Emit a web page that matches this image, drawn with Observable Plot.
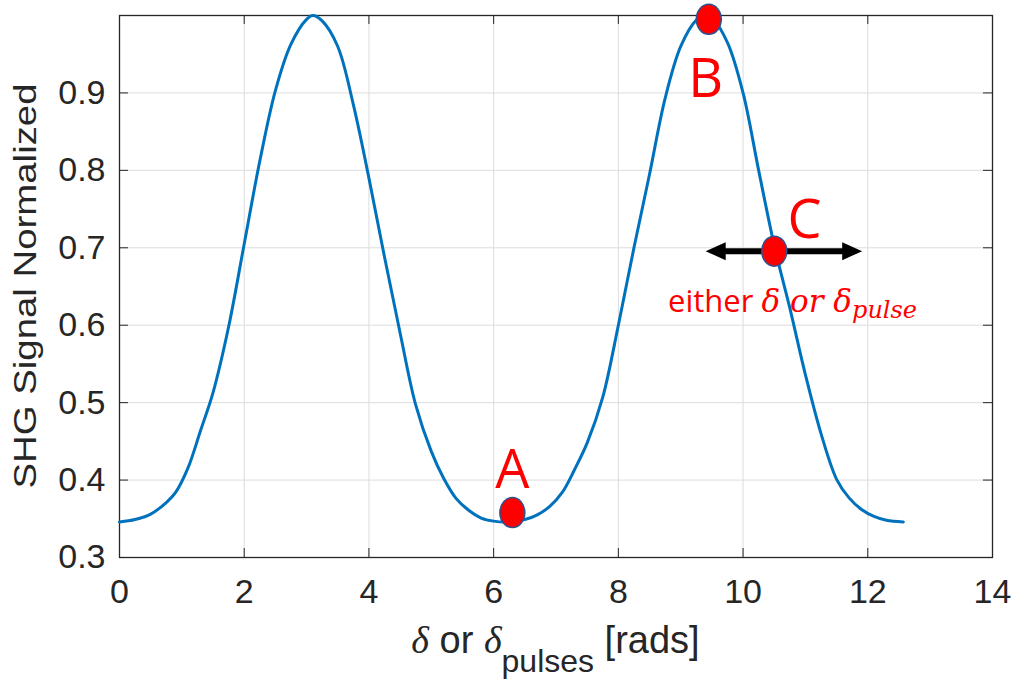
<!DOCTYPE html>
<html><head><meta charset="utf-8">
<script src="https://cdn.jsdelivr.net/npm/d3@7"></script>
<script src="https://cdn.jsdelivr.net/npm/@observablehq/plot@0.6"></script>
<style>body{margin:0;background:#fff;}</style>
</head><body><div id="chart"></div>
<script>
// ---- data ----
const xTicks = [0, 2, 4, 6, 8, 10, 12, 14];
const yTicks = [0.3, 0.4, 0.5, 0.6, 0.7, 0.8, 0.9];
const phase = [0,0.25,0.5,0.75,0.9,1.1,1.3,1.5,1.75,2,2.25,2.5,2.75,3,3.1,3.25,3.5,3.75,4,4.25,4.5,4.75,5,5.2,5.4,5.6,5.8,6,6.25,
  6.5,6.7,6.9,7.1,7.3,7.5,7.75,8,8.25,8.5,8.75,9,9.25,9.4,9.5,9.75,10,10.25,10.5,10.75,11,11.25,11.5,11.7,11.9,12.1,12.3,12.57];
const signal = [0.346,0.349,0.356,0.371,0.384,0.416,0.464,0.513,0.598,0.705,0.812,0.903,0.963,0.995,1.0,0.993,0.960,0.885,0.790,0.688,0.590,0.497,0.437,0.402,0.376,0.361,0.351,0.347,0.346,
  0.349,0.355,0.366,0.384,0.414,0.448,0.507,0.600,0.700,0.795,0.893,0.960,0.994,1.0,0.997,0.965,0.900,0.800,0.703,0.622,0.536,0.460,0.401,0.377,0.362,0.353,0.348,0.346];
const pointNames = ["A", "B", "C"];
const pointX = [6.30, 9.45, 10.50];
const pointY = [0.358, 0.995, 0.6956];
const labelX = [6.30, 9.40, 10.985];
const labelY = [0.390, 0.8945, 0.712];
const arrowX = [9.40, 11.91];
const arrowY = 0.6956;
const noteX = 8.805, noteY = 0.6164;

const curveData = phase.map((x, i) => ({x, y: signal[i]}));
const idx = pointNames.map((_, i) => i);

const ellipse = {draw(ctx) {
  const rx = 12.5, ry = 15, k = 0.5523;
  ctx.moveTo(rx, 0);
  ctx.bezierCurveTo(rx, ry * k, rx * k, ry, 0, ry);
  ctx.bezierCurveTo(-rx * k, ry, -rx, ry * k, -rx, 0);
  ctx.bezierCurveTo(-rx, -ry * k, -rx * k, -ry, 0, -ry);
  ctx.bezierCurveTo(rx * k, -ry, rx, -ry * k, rx, 0);
  ctx.closePath();
}};
const headLeft = {draw(ctx) { ctx.moveTo(0, 0); ctx.lineTo(20, -9); ctx.lineTo(20, 9); ctx.closePath(); }};
const headRight = {draw(ctx) { ctx.moveTo(0, 0); ctx.lineTo(-20, -9); ctx.lineTo(-20, 9); ctx.closePath(); }};

const W = 1016, H = 681, mL = 119, mR = 24, mT = 15, mB = 124;
const pw = W - mL - mR, ph = H - mT - mB;

const plot = Plot.plot({
  width: W, height: H,
  marginLeft: mL, marginRight: mR, marginTop: mT, marginBottom: mB,
  x: {domain: [0, 14]},
  y: {domain: [0.3, 1.0]},
  style: {background: "white", fontFamily: "'Liberation Sans', Arial, sans-serif", color: "#262626"},
  marks: [
    Plot.gridX(xTicks, {stroke: "#dcdcdc", strokeOpacity: 1, strokeWidth: 1}),
    Plot.gridY(yTicks, {stroke: "#dcdcdc", strokeOpacity: 1, strokeWidth: 1}),
    Plot.tickX(xTicks, {x: d => d, stroke: "#262626", insetTop: ph - 9}),
    Plot.tickX(xTicks, {x: d => d, stroke: "#262626", insetBottom: ph - 9}),
    Plot.tickY(yTicks, {y: d => d, stroke: "#262626", insetRight: pw - 9}),
    Plot.tickY(yTicks, {y: d => d, stroke: "#262626", insetLeft: pw - 9}),
    Plot.frame({stroke: "#262626", strokeWidth: 1.3}),
    Plot.axisX(xTicks, {anchor: "bottom", tickSize: 0, tickPadding: 21, fontSize: 34, label: null, fill: "#262626"}),
    Plot.axisY(yTicks, {anchor: "left", tickSize: 0, tickPadding: 14, fontSize: 34, label: null, fill: "#262626", tickFormat: d => d.toFixed(1)}),
    Plot.line(curveData, {x: "x", y: "y", stroke: "#0072BD", strokeWidth: 3, curve: "catmull-rom"}),
    Plot.ruleY([arrowY], {x1: arrowX[0], x2: arrowX[1], stroke: "black", strokeWidth: 6, insetLeft: 15, insetRight: 15}),
    Plot.dot([0], {x: arrowX[0], y: arrowY, symbol: headLeft, fill: "black", stroke: "none"}),
    Plot.dot([0], {x: arrowX[1], y: arrowY, symbol: headRight, fill: "black", stroke: "none"}),
    Plot.dot(idx, {x: i => pointX[i], y: i => pointY[i], symbol: ellipse, fill: "#ff0000", stroke: "#2f528f", strokeWidth: 1.5}),
    Plot.text(idx, {x: i => labelX[i], y: i => labelY[i], text: i => pointNames[i], fill: "#ff0000",
      fontSize: 54, fontFamily: "'Open Sans', sans-serif", lineAnchor: "bottom", textAnchor: "middle"})
  ]
});
document.getElementById("chart").appendChild(plot);

const sx = plot.scale("x"), sy = plot.scale("y");
const svg = d3.select(plot);

// x axis label: δ or δ_pulses [rads]
const xl = svg.append("text")
  .attr("x", sx.apply(7)).attr("y", sy.apply(0.3) + 96)
  .attr("text-anchor", "middle").attr("fill", "#262626")
  .attr("font-family", "'Liberation Sans', Arial, sans-serif").attr("font-size", 38);
xl.append("tspan").attr("font-family", "'Liberation Serif', serif").attr("font-style", "italic").text("δ");
xl.append("tspan").text(" or ");
xl.append("tspan").attr("font-family", "'Liberation Serif', serif").attr("font-style", "italic").text("δ");
xl.append("tspan").attr("font-size", 32).attr("dy", 19).text("pulses");
xl.append("tspan").attr("dy", -19).text(" [rads]");

// y axis label
svg.append("text")
  .attr("transform", `translate(36,${(sy.apply(0.3) + sy.apply(1.0)) / 2}) rotate(-90)`)
  .attr("text-anchor", "middle").attr("fill", "#262626")
  .attr("font-family", "'Liberation Sans', Arial, sans-serif").attr("font-size", 32)
  .attr("textLength", 405).attr("lengthAdjust", "spacingAndGlyphs")
  .text("SHG Signal Normalized");

// annotation: either δ or δ_pulse
const note = svg.append("text")
  .attr("x", sx.apply(noteX)).attr("y", sy.apply(noteY))
  .attr("text-anchor", "start")
  .attr("fill", "#ff0000").attr("font-family", "'Open Sans', sans-serif").attr("font-size", 31);
note.append("tspan").text("either ");
note.append("tspan").attr("font-family", "'DejaVu Serif', serif").attr("font-style", "italic").text("δ or δ");
note.append("tspan").attr("font-family", "'DejaVu Serif', serif").attr("font-style", "italic")
  .attr("font-size", 24).attr("dy", 6).text("pulse");
</script>
</body></html>
